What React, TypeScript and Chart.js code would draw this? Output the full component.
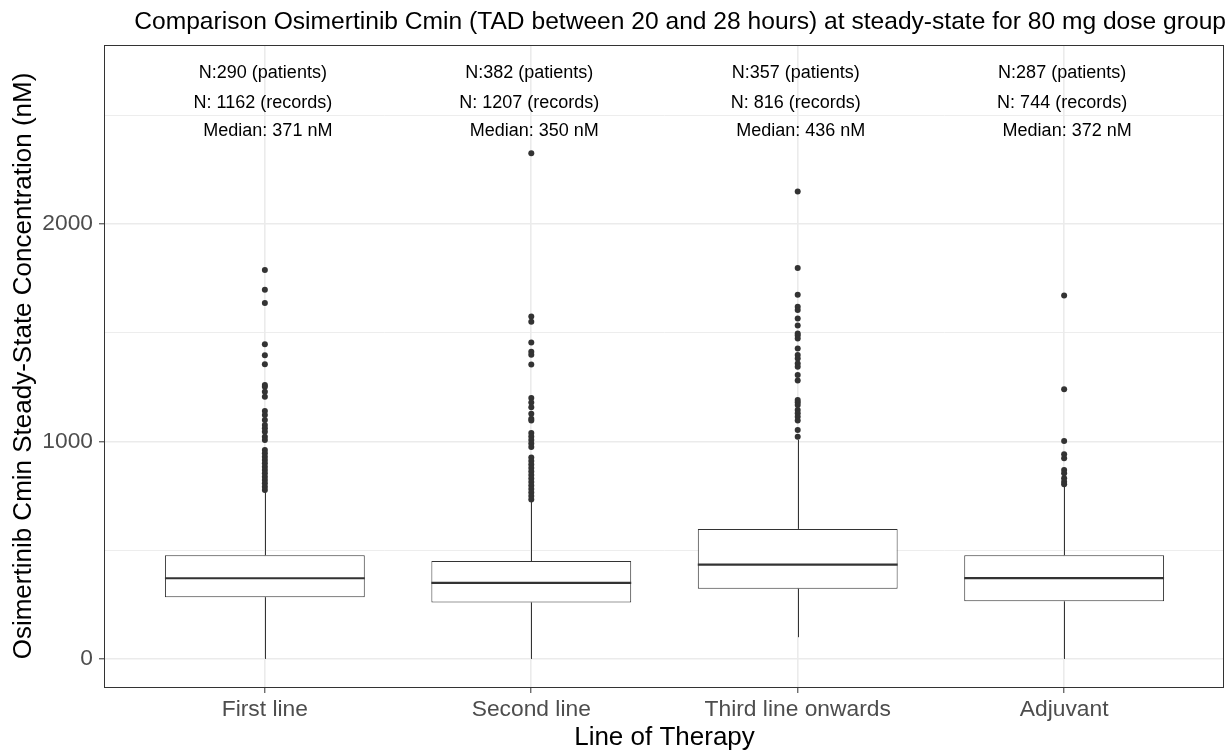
import React, { useEffect, useRef } from "react";
import { Chart, registerables } from "chart.js";

Chart.register(...registerables);

// ---- data ----
const categories = ["First line", "Second line", "Third line onwards", "Adjuvant"];
const whiskerLow = [0, 0, 100, 0];
const q1 = [284, 260, 323, 265];
const median = [371, 350, 434, 372];
const q3 = [477, 450, 598, 477];
const whiskerHigh = [770, 730, 1008, 795];

const patientsN = [290, 382, 357, 287];
const recordsN = [1162, 1207, 816, 744];
const medianLabels = [371, 350, 436, 372];

const outliersFirst = [
  1788, 1698, 1637, 1447, 1396, 1355, 1260, 1252, 1229, 1206, 1140, 1122, 1099, 1076,
  1061, 1045, 1022, 1007, 961, 946, 930, 915, 900, 884, 869, 854, 838, 823, 808, 792, 777,
];
const outliersSecond = [
  2325, 1575, 1550, 1455, 1413, 1399, 1354, 1200, 1179, 1157, 1128, 1104, 1096, 1039,
  1023, 1007, 991, 975, 926, 910, 894, 878, 862, 846, 830, 814, 797, 781, 765, 749, 733,
];
const outliersThird = [
  2149, 1798, 1675, 1620, 1605, 1566, 1533, 1497, 1487, 1474, 1428, 1398, 1382, 1359,
  1344, 1306, 1280, 1191, 1180, 1168, 1145, 1130, 1114, 1096, 1053, 1022,
];
const outliersAdjuvant = [1671, 1240, 1002, 941, 923, 869, 854, 831, 815, 803];
const outliers = [outliersFirst, outliersSecond, outliersThird, outliersAdjuvant];

const yTicks = [0, 500, 1000, 1500, 2000, 2500];
const labelYValues = [2694, 2556, 2428];

const FONT = "'Liberation Sans', Arial, sans-serif";
const INK = "#333333";

const boxPlugin = {
  id: "boxExtras",
  afterDatasetsDraw(chart: any) {
    const ctx = chart.ctx;
    const xs = chart.scales.x;
    const ys = chart.scales.y;
    const meta = chart.getDatasetMeta(0);
    ctx.save();
    // whiskers
    ctx.strokeStyle = INK;
    ctx.lineWidth = 1;
    for (let i = 0; i < categories.length; i++) {
      const x = Math.round(xs.getPixelForValue(i)) + 0.5;
      ctx.beginPath();
      ctx.moveTo(x, ys.getPixelForValue(whiskerLow[i]));
      ctx.lineTo(x, ys.getPixelForValue(q1[i]));
      ctx.moveTo(x, ys.getPixelForValue(q3[i]));
      ctx.lineTo(x, ys.getPixelForValue(whiskerHigh[i]));
      ctx.stroke();
    }
    // medians
    ctx.lineWidth = 2.2;
    for (let i = 0; i < categories.length; i++) {
      const bar = meta.data[i];
      const half = bar.width / 2;
      const y = ys.getPixelForValue(median[i]);
      ctx.beginPath();
      ctx.moveTo(bar.x - half, y);
      ctx.lineTo(bar.x + half, y);
      ctx.stroke();
    }
    // annotations
    ctx.fillStyle = "#000000";
    ctx.font = `18px ${FONT}`;
    ctx.textAlign = "center";
    ctx.textBaseline = "middle";
    for (let i = 0; i < categories.length; i++) {
      const x = xs.getPixelForValue(i);
      const lines = [
        `N:${patientsN[i]} (patients)`,
        `N: ${recordsN[i]} (records)`,
        `  Median: ${medianLabels[i]} nM`,
      ];
      lines.forEach((t, k) => {
        ctx.fillText(t, x - 2, ys.getPixelForValue(labelYValues[k]));
      });
    }
    ctx.restore();
  },
  afterDraw(chart: any) {
    const { left, right, top, bottom } = chart.chartArea;
    const ctx = chart.ctx;
    ctx.save();
    ctx.strokeStyle = INK;
    ctx.lineWidth = 1;
    ctx.strokeRect(Math.round(left) - 0.5, Math.round(top) + 0.5, Math.round(right - left), Math.round(bottom - top));
    ctx.restore();
  },
};

export default function App() {
  const ref = useRef<HTMLCanvasElement>(null);
  useEffect(() => {
    if (!ref.current) return;
    const boxData = categories.map((_, i) => ({ x: i, y: [q1[i], q3[i]] }));
    const pointData: { x: number; y: number }[] = [];
    outliers.forEach((arr, i) => arr.forEach((v) => pointData.push({ x: i, y: v })));

    const chart = new Chart(ref.current, {
      type: "bar",
      data: {
        datasets: [
          {
            type: "bar",
            data: boxData as any,
            backgroundColor: "#ffffff",
            borderColor: INK,
            borderWidth: 1,
            borderSkipped: false,
            categoryPercentage: 1,
            barPercentage: 0.75,
          } as any,
          {
            type: "scatter",
            data: pointData,
            backgroundColor: INK,
            borderWidth: 0,
            pointRadius: 3,
          } as any,
        ],
      },
      options: {
        responsive: false,
        animation: false,
        devicePixelRatio: 1,
        layout: { padding: { left: 0, right: 2, top: 0, bottom: 0 } },
        plugins: {
          legend: { display: false },
          tooltip: { enabled: false },
          title: {
            display: true,
            text: "Comparison Osimertinib Cmin (TAD between 20 and 28 hours) at steady-state for 80 mg dose group",
            align: "end",
            color: "#000000",
            font: { family: FONT, size: 24.6, weight: "normal" },
            padding: { top: 7.5, bottom: 8 },
          },
        },
        scales: {
          x: {
            type: "linear",
            min: -0.6,
            max: 3.6,
            offset: false,
            afterBuildTicks: (s: any) => {
              s.ticks = categories.map((_, i) => ({ value: i }));
            },
            afterFit: (s: any) => {
              s.height = 66;
            },
            ticks: {
              callback: (_v: any, i: number) => categories[i],
              color: "#4d4d4d",
              font: { family: FONT, size: 22.8 },
              padding: 3,
              maxRotation: 0,
              autoSkip: false,
            },
            grid: {
              offset: false,
              color: "#ebebeb",
              lineWidth: 1.6,
              tickColor: INK,
              tickLength: 6,
              tickWidth: 1,
            },
            border: { display: false },
            title: {
              display: true,
              text: "Line of Therapy",
              color: "#000000",
              font: { family: FONT, size: 26 },
              padding: { top: 0, bottom: 0 },
            },
          },
          y: {
            type: "linear",
            min: -129,
            max: 2823,
            afterBuildTicks: (s: any) => {
              s.ticks = yTicks.map((v) => ({ value: v }));
            },
            afterFit: (s: any) => {
              s.width = 105;
            },
            ticks: {
              callback: (v: any) => (v % 1000 === 0 ? String(v) : ""),
              color: "#4d4d4d",
              font: { family: FONT, size: 22.8 },
              padding: 6,
            },
            grid: {
              color: "#ebebeb",
              lineWidth: (c: any) => (c.tick && c.tick.value % 1000 === 0 ? 1.6 : 0.9),
              tickColor: (c: any) => (c.tick && c.tick.value % 1000 === 0 ? INK : "rgba(0,0,0,0)"),
              tickLength: 6,
              tickWidth: 1,
            },
            border: { display: false },
            title: {
              display: true,
              text: "Osimertinib Cmin Steady-State Concentration (nM)",
              color: "#000000",
              font: { family: FONT, size: 26 },
              padding: { top: 8.4, bottom: 0 },
            },
          },
        },
      } as any,
      plugins: [boxPlugin],
    });
    return () => chart.destroy();
  }, []);

  return (
    <div style={{ position: "fixed", left: 0, top: 0, width: 1228, height: 753, background: "#ffffff" }}>
      <canvas ref={ref} width={1228} height={753} style={{ display: "block" }} />
    </div>
  );
}
